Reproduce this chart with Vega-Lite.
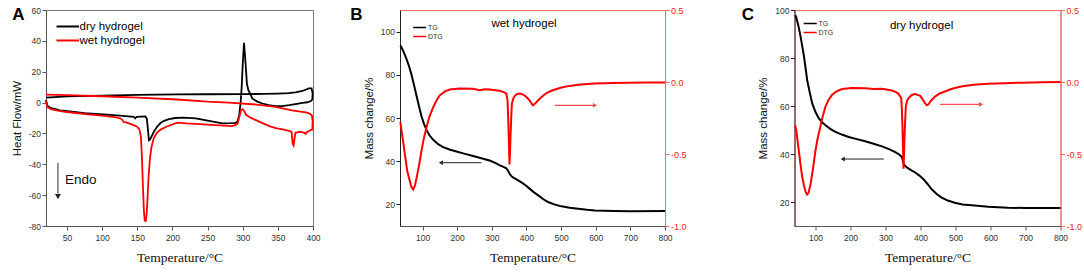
{
  "$schema": "https://vega.github.io/schema/vega-lite/v6.json",
  "padding": {"left": 10, "top": 5, "right": 0, "bottom": 0},
  "background": "white",
  "config": {
    "font": "Liberation Sans",
    "axis": {"labelFont": "Liberation Sans", "labelFontSize": 8.5, "labelColor": "#333", "labelOverlap": false, "labelFlush": false, "labelBound": false, "tickSize": 4, "tickColor": "#555", "domainColor": "#555", "grid": false, "titleFont": "Liberation Sans", "titleFontWeight": "normal", "titleColor": "#111", "titleFontSize": 11.5, "labelPadding": 1.5, "titlePadding": 6},
    "axisX": {"titleFont": "Liberation Serif", "titleFontSize": 13.5, "titlePadding": 9, "labelPadding": 3},
    "title": {"fontSize": 17, "fontWeight": "bold", "anchor": "start", "frame": "bounds", "offset": -18, "color": "#000", "font": "Liberation Sans"},
    "legend": {"padding": 0, "titlePadding": 0}
  },
  "datasets": {
    "aDSC": [
      {"s":"dry hydrogel","i":0,"t":20,"v":1.6},{"s":"dry hydrogel","i":1,"t":22,"v":-2.0},{"s":"dry hydrogel","i":2,"t":26,"v":-3.2},{"s":"dry hydrogel","i":3,"t":31,"v":-4.0},{"s":"dry hydrogel","i":4,"t":40,"v":-5.0},{"s":"dry hydrogel","i":5,"t":50,"v":-5.6},{"s":"dry hydrogel","i":6,"t":60,"v":-6.1},{"s":"dry hydrogel","i":7,"t":75,"v":-6.8},{"s":"dry hydrogel","i":8,"t":90,"v":-7.3},{"s":"dry hydrogel","i":9,"t":107,"v":-7.8},{"s":"dry hydrogel","i":10,"t":125,"v":-8.5},{"s":"dry hydrogel","i":11,"t":145,"v":-9.2},{"s":"dry hydrogel","i":12,"t":147,"v":-10.3},{"s":"dry hydrogel","i":13,"t":149,"v":-9.2},{"s":"dry hydrogel","i":14,"t":161.5,"v":-8.9},{"s":"dry hydrogel","i":15,"t":163.5,"v":-10.5},{"s":"dry hydrogel","i":16,"t":165,"v":-17},{"s":"dry hydrogel","i":17,"t":166.5,"v":-24.4},{"s":"dry hydrogel","i":18,"t":168,"v":-24},{"s":"dry hydrogel","i":19,"t":171,"v":-21.2},{"s":"dry hydrogel","i":20,"t":174,"v":-18.5},{"s":"dry hydrogel","i":21,"t":178,"v":-15.7},{"s":"dry hydrogel","i":22,"t":183,"v":-13.2},{"s":"dry hydrogel","i":23,"t":188,"v":-11.8},{"s":"dry hydrogel","i":24,"t":195,"v":-10.7},{"s":"dry hydrogel","i":25,"t":204,"v":-10.0},{"s":"dry hydrogel","i":26,"t":216,"v":-9.7},{"s":"dry hydrogel","i":27,"t":233,"v":-10.3},{"s":"dry hydrogel","i":28,"t":252,"v":-11.8},{"s":"dry hydrogel","i":29,"t":271,"v":-13.5},{"s":"dry hydrogel","i":30,"t":283,"v":-13.3},{"s":"dry hydrogel","i":31,"t":290,"v":-13.1},{"s":"dry hydrogel","i":32,"t":293,"v":-11.8},{"s":"dry hydrogel","i":33,"t":295,"v":-8},{"s":"dry hydrogel","i":34,"t":297,"v":0},{"s":"dry hydrogel","i":35,"t":298.5,"v":10},{"s":"dry hydrogel","i":36,"t":300,"v":25},{"s":"dry hydrogel","i":37,"t":301.8,"v":38.8},{"s":"dry hydrogel","i":38,"t":303.3,"v":30},{"s":"dry hydrogel","i":39,"t":304.8,"v":20},{"s":"dry hydrogel","i":40,"t":306,"v":12},{"s":"dry hydrogel","i":41,"t":308,"v":8.1},{"s":"dry hydrogel","i":42,"t":311,"v":5.5},{"s":"dry hydrogel","i":43,"t":313.5,"v":2.7},{"s":"dry hydrogel","i":44,"t":320,"v":0.8},{"s":"dry hydrogel","i":45,"t":328,"v":-0.6},{"s":"dry hydrogel","i":46,"t":337,"v":-1.7},{"s":"dry hydrogel","i":47,"t":347,"v":-2.3},{"s":"dry hydrogel","i":48,"t":356,"v":-2.3},{"s":"dry hydrogel","i":49,"t":366,"v":-1.7},{"s":"dry hydrogel","i":50,"t":375,"v":-1.0},{"s":"dry hydrogel","i":51,"t":385,"v":-0.2},{"s":"dry hydrogel","i":52,"t":392,"v":0.2},{"s":"dry hydrogel","i":53,"t":397,"v":1.0},{"s":"dry hydrogel","i":54,"t":399,"v":2},{"s":"dry hydrogel","i":55,"t":399.5,"v":6},{"s":"dry hydrogel","i":56,"t":398,"v":9.2},{"s":"dry hydrogel","i":57,"t":394,"v":9.2},{"s":"dry hydrogel","i":58,"t":385,"v":7.5},{"s":"dry hydrogel","i":59,"t":375,"v":6.6},{"s":"dry hydrogel","i":60,"t":365,"v":6.1},{"s":"dry hydrogel","i":61,"t":350,"v":5.8},{"s":"dry hydrogel","i":62,"t":330,"v":5.6},{"s":"dry hydrogel","i":63,"t":300,"v":5.5},{"s":"dry hydrogel","i":64,"t":250,"v":5.4},{"s":"dry hydrogel","i":65,"t":207,"v":5.3},{"s":"dry hydrogel","i":66,"t":150,"v":5.0},{"s":"dry hydrogel","i":67,"t":100,"v":4.5},{"s":"dry hydrogel","i":68,"t":50,"v":4.0},{"s":"dry hydrogel","i":69,"t":20,"v":3.2},
      {"s":"wet hydrogel","i":0,"t":20,"v":1.0},{"s":"wet hydrogel","i":1,"t":22,"v":-3.0},{"s":"wet hydrogel","i":2,"t":27,"v":-4.2},{"s":"wet hydrogel","i":3,"t":35,"v":-5.0},{"s":"wet hydrogel","i":4,"t":45,"v":-5.8},{"s":"wet hydrogel","i":5,"t":59.4,"v":-6.6},{"s":"wet hydrogel","i":6,"t":80,"v":-7.6},{"s":"wet hydrogel","i":7,"t":107,"v":-8.8},{"s":"wet hydrogel","i":8,"t":120,"v":-9.6},{"s":"wet hydrogel","i":9,"t":126,"v":-10.3},{"s":"wet hydrogel","i":10,"t":128,"v":-11.0},{"s":"wet hydrogel","i":11,"t":130.6,"v":-12.5},{"s":"wet hydrogel","i":12,"t":134,"v":-12.9},{"s":"wet hydrogel","i":13,"t":137.8,"v":-13.5},{"s":"wet hydrogel","i":14,"t":143,"v":-14.3},{"s":"wet hydrogel","i":15,"t":149.7,"v":-15.7},{"s":"wet hydrogel","i":16,"t":153,"v":-17.5},{"s":"wet hydrogel","i":17,"t":155,"v":-22},{"s":"wet hydrogel","i":18,"t":156.5,"v":-35},{"s":"wet hydrogel","i":19,"t":158,"v":-55},{"s":"wet hydrogel","i":20,"t":159.3,"v":-70},{"s":"wet hydrogel","i":21,"t":160.5,"v":-76.5},{"s":"wet hydrogel","i":22,"t":162,"v":-76.8},{"s":"wet hydrogel","i":23,"t":163.3,"v":-72},{"s":"wet hydrogel","i":24,"t":164.5,"v":-62},{"s":"wet hydrogel","i":25,"t":166,"v":-48},{"s":"wet hydrogel","i":26,"t":168,"v":-36},{"s":"wet hydrogel","i":27,"t":170,"v":-29},{"s":"wet hydrogel","i":28,"t":173.4,"v":-23},{"s":"wet hydrogel","i":29,"t":178,"v":-19.5},{"s":"wet hydrogel","i":30,"t":183,"v":-17.5},{"s":"wet hydrogel","i":31,"t":192,"v":-15.5},{"s":"wet hydrogel","i":32,"t":206.7,"v":-13.0},{"s":"wet hydrogel","i":33,"t":220,"v":-13.5},{"s":"wet hydrogel","i":34,"t":233,"v":-13.8},{"s":"wet hydrogel","i":35,"t":261,"v":-14.6},{"s":"wet hydrogel","i":36,"t":285,"v":-15.3},{"s":"wet hydrogel","i":37,"t":290,"v":-14.5},{"s":"wet hydrogel","i":38,"t":292.8,"v":-13.5},{"s":"wet hydrogel","i":39,"t":295,"v":-9.5},{"s":"wet hydrogel","i":40,"t":297.6,"v":-4.9},{"s":"wet hydrogel","i":41,"t":300,"v":-4.3},{"s":"wet hydrogel","i":42,"t":302,"v":-5.5},{"s":"wet hydrogel","i":43,"t":304.7,"v":-7.9},{"s":"wet hydrogel","i":44,"t":311,"v":-9.8},{"s":"wet hydrogel","i":45,"t":318.9,"v":-11.4},{"s":"wet hydrogel","i":46,"t":328,"v":-13.3},{"s":"wet hydrogel","i":47,"t":337.9,"v":-15.3},{"s":"wet hydrogel","i":48,"t":347,"v":-16.5},{"s":"wet hydrogel","i":49,"t":356.9,"v":-17.4},{"s":"wet hydrogel","i":50,"t":366,"v":-18.3},{"s":"wet hydrogel","i":51,"t":369.5,"v":-19},{"s":"wet hydrogel","i":52,"t":371,"v":-26.5},{"s":"wet hydrogel","i":53,"t":372.4,"v":-27.8},{"s":"wet hydrogel","i":54,"t":373.5,"v":-24},{"s":"wet hydrogel","i":55,"t":375,"v":-19.6},{"s":"wet hydrogel","i":56,"t":379,"v":-19.2},{"s":"wet hydrogel","i":57,"t":383,"v":-19.0},{"s":"wet hydrogel","i":58,"t":387.7,"v":-19.6},{"s":"wet hydrogel","i":59,"t":389.5,"v":-20.3},{"s":"wet hydrogel","i":60,"t":391,"v":-19.2},{"s":"wet hydrogel","i":61,"t":396.6,"v":-17.9},{"s":"wet hydrogel","i":62,"t":399,"v":-17.5},{"s":"wet hydrogel","i":63,"t":399.5,"v":-12},{"s":"wet hydrogel","i":64,"t":398.5,"v":-8.5},{"s":"wet hydrogel","i":65,"t":396,"v":-7.3},{"s":"wet hydrogel","i":66,"t":390,"v":-6.4},{"s":"wet hydrogel","i":67,"t":384.7,"v":-6.0},{"s":"wet hydrogel","i":68,"t":370,"v":-5.0},{"s":"wet hydrogel","i":69,"t":346.8,"v":-2.8},{"s":"wet hydrogel","i":70,"t":320,"v":-1.3},{"s":"wet hydrogel","i":71,"t":280,"v":0.0},{"s":"wet hydrogel","i":72,"t":250,"v":0.6},{"s":"wet hydrogel","i":73,"t":206.7,"v":2.0},{"s":"wet hydrogel","i":74,"t":150,"v":3.2},{"s":"wet hydrogel","i":75,"t":100,"v":4.1},{"s":"wet hydrogel","i":76,"t":50,"v":4.8},{"s":"wet hydrogel","i":77,"t":20,"v":5.2}
    ],
    "bTG": [
      {"c":"TG","t":36,"v":93.5},{"c":"TG","t":40,"v":92.5},{"c":"TG","t":47,"v":90},{"c":"TG","t":54,"v":87.2},{"c":"TG","t":61,"v":84},{"c":"TG","t":68,"v":80.2},{"c":"TG","t":75,"v":75.5},{"c":"TG","t":83,"v":70.1},{"c":"TG","t":90,"v":65.3},{"c":"TG","t":97,"v":60.8},{"c":"TG","t":104,"v":57.4},{"c":"TG","t":111.5,"v":54.5},{"c":"TG","t":120,"v":52.0},{"c":"TG","t":131,"v":49.9},{"c":"TG","t":145,"v":47.9},{"c":"TG","t":159.5,"v":46.5},{"c":"TG","t":178,"v":45.4},{"c":"TG","t":198,"v":44.5},{"c":"TG","t":220,"v":43.5},{"c":"TG","t":246,"v":42.4},{"c":"TG","t":270,"v":41.4},{"c":"TG","t":293.6,"v":40.3},{"c":"TG","t":310,"v":39.2},{"c":"TG","t":322,"v":38.2},{"c":"TG","t":335,"v":37.3},{"c":"TG","t":342,"v":36.7},{"c":"TG","t":347,"v":35.6},{"c":"TG","t":351,"v":34.3},{"c":"TG","t":356,"v":33.2},{"c":"TG","t":361,"v":32.5},{"c":"TG","t":375,"v":31.2},{"c":"TG","t":390,"v":29.7},{"c":"TG","t":400,"v":28.5},{"c":"TG","t":409,"v":27.3},{"c":"TG","t":420,"v":25.8},{"c":"TG","t":434,"v":24.2},{"c":"TG","t":448,"v":22.5},{"c":"TG","t":462.5,"v":21.1},{"c":"TG","t":480,"v":20.0},{"c":"TG","t":501,"v":19.1},{"c":"TG","t":525,"v":18.5},{"c":"TG","t":549,"v":18.0},{"c":"TG","t":575,"v":17.5},{"c":"TG","t":597,"v":17.2},{"c":"TG","t":654,"v":16.9},{"c":"TG","t":700,"v":16.8},{"c":"TG","t":800,"v":16.9}
    ],
    "bDTG": [
      {"c":"DTG","t":36,"v":-0.279},{"c":"DTG","t":42,"v":-0.38},{"c":"DTG","t":49,"v":-0.50},{"c":"DTG","t":56,"v":-0.62},{"c":"DTG","t":63.5,"v":-0.689},{"c":"DTG","t":68,"v":-0.73},{"c":"DTG","t":73,"v":-0.747},{"c":"DTG","t":78,"v":-0.72},{"c":"DTG","t":83,"v":-0.665},{"c":"DTG","t":90,"v":-0.58},{"c":"DTG","t":97,"v":-0.478},{"c":"DTG","t":104,"v":-0.39},{"c":"DTG","t":111.5,"v":-0.314},{"c":"DTG","t":120,"v":-0.24},{"c":"DTG","t":131,"v":-0.174},{"c":"DTG","t":140,"v":-0.13},{"c":"DTG","t":150,"v":-0.092},{"c":"DTG","t":165,"v":-0.065},{"c":"DTG","t":178.5,"v":-0.052},{"c":"DTG","t":207,"v":-0.045},{"c":"DTG","t":246,"v":-0.047},{"c":"DTG","t":265,"v":-0.057},{"c":"DTG","t":280,"v":-0.05},{"c":"DTG","t":293.6,"v":-0.052},{"c":"DTG","t":322,"v":-0.061},{"c":"DTG","t":335,"v":-0.07},{"c":"DTG","t":342,"v":-0.080},{"c":"DTG","t":345.5,"v":-0.127},{"c":"DTG","t":348,"v":-0.3},{"c":"DTG","t":349.5,"v":-0.431},{"c":"DTG","t":351,"v":-0.572},{"c":"DTG","t":352.5,"v":-0.5},{"c":"DTG","t":354,"v":-0.384},{"c":"DTG","t":356,"v":-0.25},{"c":"DTG","t":358,"v":-0.151},{"c":"DTG","t":362,"v":-0.115},{"c":"DTG","t":365.5,"v":-0.099},{"c":"DTG","t":372,"v":-0.085},{"c":"DTG","t":380,"v":-0.080},{"c":"DTG","t":387,"v":-0.084},{"c":"DTG","t":394,"v":-0.092},{"c":"DTG","t":402,"v":-0.11},{"c":"DTG","t":409,"v":-0.127},{"c":"DTG","t":415,"v":-0.15},{"c":"DTG","t":419,"v":-0.162},{"c":"DTG","t":425,"v":-0.15},{"c":"DTG","t":434,"v":-0.127},{"c":"DTG","t":443,"v":-0.105},{"c":"DTG","t":453,"v":-0.085},{"c":"DTG","t":462,"v":-0.072},{"c":"DTG","t":472,"v":-0.061},{"c":"DTG","t":485,"v":-0.05},{"c":"DTG","t":501,"v":-0.038},{"c":"DTG","t":525,"v":-0.027},{"c":"DTG","t":549,"v":-0.019},{"c":"DTG","t":575,"v":-0.014},{"c":"DTG","t":597,"v":-0.010},{"c":"DTG","t":650,"v":-0.007},{"c":"DTG","t":693,"v":-0.005},{"c":"DTG","t":750,"v":-0.004},{"c":"DTG","t":800,"v":-0.003}
    ],
    "cTG": [
      {"c":"TG","t":42,"v":97.8},{"c":"TG","t":45,"v":96.9},{"c":"TG","t":51,"v":93.5},{"c":"TG","t":57,"v":89.2},{"c":"TG","t":62,"v":85},{"c":"TG","t":67,"v":80.8},{"c":"TG","t":71,"v":76.5},{"c":"TG","t":76,"v":71.0},{"c":"TG","t":83,"v":66},{"c":"TG","t":90.6,"v":61.1},{"c":"TG","t":100,"v":57.5},{"c":"TG","t":109.7,"v":54.8},{"c":"TG","t":119,"v":53.2},{"c":"TG","t":128.5,"v":52.0},{"c":"TG","t":142,"v":50.5},{"c":"TG","t":157,"v":49.2},{"c":"TG","t":175,"v":48.1},{"c":"TG","t":195,"v":47.1},{"c":"TG","t":218,"v":46.2},{"c":"TG","t":242,"v":45.3},{"c":"TG","t":266,"v":44.3},{"c":"TG","t":290,"v":43.2},{"c":"TG","t":310,"v":42.0},{"c":"TG","t":328,"v":40.8},{"c":"TG","t":340,"v":39.7},{"c":"TG","t":347,"v":38.7},{"c":"TG","t":350,"v":37.0},{"c":"TG","t":353,"v":35.5},{"c":"TG","t":361,"v":34.4},{"c":"TG","t":373,"v":33.3},{"c":"TG","t":385,"v":32.3},{"c":"TG","t":397,"v":31.0},{"c":"TG","t":408.5,"v":29.5},{"c":"TG","t":420,"v":27.5},{"c":"TG","t":432,"v":25.3},{"c":"TG","t":446,"v":23.3},{"c":"TG","t":460.6,"v":21.8},{"c":"TG","t":478,"v":20.6},{"c":"TG","t":498,"v":19.7},{"c":"TG","t":520,"v":19.0},{"c":"TG","t":546,"v":18.6},{"c":"TG","t":570,"v":18.3},{"c":"TG","t":593.5,"v":18.0},{"c":"TG","t":650,"v":17.6},{"c":"TG","t":700,"v":17.5},{"c":"TG","t":800,"v":17.5}
    ],
    "cDTG": [
      {"c":"DTG","t":42,"v":-0.30},{"c":"DTG","t":45,"v":-0.334},{"c":"DTG","t":51,"v":-0.45},{"c":"DTG","t":57,"v":-0.568},{"c":"DTG","t":62,"v":-0.66},{"c":"DTG","t":67,"v":-0.719},{"c":"DTG","t":72,"v":-0.765},{"c":"DTG","t":76,"v":-0.782},{"c":"DTG","t":80,"v":-0.77},{"c":"DTG","t":86,"v":-0.708},{"c":"DTG","t":93,"v":-0.6},{"c":"DTG","t":100,"v":-0.474},{"c":"DTG","t":107,"v":-0.38},{"c":"DTG","t":114,"v":-0.311},{"c":"DTG","t":121,"v":-0.235},{"c":"DTG","t":128.5,"v":-0.171},{"c":"DTG","t":137,"v":-0.125},{"c":"DTG","t":147.5,"v":-0.089},{"c":"DTG","t":160,"v":-0.065},{"c":"DTG","t":176,"v":-0.049},{"c":"DTG","t":204,"v":-0.042},{"c":"DTG","t":242,"v":-0.044},{"c":"DTG","t":266,"v":-0.049},{"c":"DTG","t":290,"v":-0.047},{"c":"DTG","t":318,"v":-0.059},{"c":"DTG","t":330,"v":-0.07},{"c":"DTG","t":337,"v":-0.082},{"c":"DTG","t":345,"v":-0.112},{"c":"DTG","t":347,"v":-0.2},{"c":"DTG","t":349,"v":-0.358},{"c":"DTG","t":351.5,"v":-0.603},{"c":"DTG","t":353,"v":-0.5},{"c":"DTG","t":354,"v":-0.404},{"c":"DTG","t":356,"v":-0.28},{"c":"DTG","t":358,"v":-0.171},{"c":"DTG","t":362,"v":-0.13},{"c":"DTG","t":366,"v":-0.112},{"c":"DTG","t":375,"v":-0.09},{"c":"DTG","t":383,"v":-0.084},{"c":"DTG","t":391,"v":-0.088},{"c":"DTG","t":399,"v":-0.096},{"c":"DTG","t":406,"v":-0.12},{"c":"DTG","t":413,"v":-0.147},{"c":"DTG","t":418,"v":-0.162},{"c":"DTG","t":423,"v":-0.155},{"c":"DTG","t":430,"v":-0.13},{"c":"DTG","t":441.5,"v":-0.101},{"c":"DTG","t":455,"v":-0.08},{"c":"DTG","t":470,"v":-0.066},{"c":"DTG","t":484,"v":-0.052},{"c":"DTG","t":498,"v":-0.042},{"c":"DTG","t":520,"v":-0.03},{"c":"DTG","t":546,"v":-0.021},{"c":"DTG","t":570,"v":-0.016},{"c":"DTG","t":593.5,"v":-0.012},{"c":"DTG","t":640,"v":-0.008},{"c":"DTG","t":688,"v":-0.005},{"c":"DTG","t":750,"v":-0.002},{"c":"DTG","t":800,"v":0.0}
    ]
  },
  "spacing": 28,
  "resolve": {"scale": {"x": "independent", "y": "independent", "color": "independent"}, "legend": {"color": "independent"}},
  "hconcat": [
    {
      "width": 267,
      "height": 216,
      "title": {"text": "A", "dx": 1},
      "view": {"stroke": "#777"},
      "layer": [
        {
          "data": {"name": "aDSC"},
          "mark": {"type": "line", "strokeWidth": 1.8},
          "encoding": {
            "x": {"field": "t", "type": "quantitative", "scale": {"domain": [20, 400], "nice": false, "zero": false}, "axis": {"values": [50,100,150,200,250,300,350,400], "tickCount": 30, "labelOverlap": false, "title": "Temperature/°C"}},
            "y": {"field": "v", "type": "quantitative", "scale": {"domain": [-80, 60], "nice": false, "zero": false}, "axis": {"values": [-80,-60,-40,-20,0,20,40,60], "tickCount": 30, "labelOverlap": false, "title": "Heat Flow/mW", "titleFontSize": 11.5, "labelExpr": "replace(datum.label, '−', '-')"}},
            "color": {"field": "s", "type": "nominal", "scale": {"domain": ["dry hydrogel", "wet hydrogel"], "range": ["#000000", "#ff0000"]}, "legend": {"title": null, "orient": "top-left", "offset": 7.5, "symbolType": "M-0.8,0H2.2", "symbolSize": 225, "symbolStrokeWidth": 2, "labelOffset": 8.5, "labelFontSize": 11.5, "labelColor": "#000", "labelFont": "Liberation Sans", "rowPadding": 0}},
            "order": {"field": "i", "type": "quantitative"}
          }
        },
        {
          "data": {"values": [{"t": 37, "v": -39, "v2": -59}]},
          "mark": {"type": "rule", "color": "#333", "strokeWidth": 1},
          "encoding": {
            "x": {"field": "t", "type": "quantitative", "scale": {"domain": [20, 400], "nice": false, "zero": false}},
            "y": {"field": "v", "type": "quantitative", "scale": {"domain": [-80, 60], "nice": false, "zero": false}},
            "y2": {"field": "v2"}
          }
        },
        {
          "data": {"values": [{"t": 37, "v": -61}]},
          "mark": {"type": "point", "shape": "triangle-down", "filled": true, "size": 35, "color": "#222", "opacity": 1},
          "encoding": {
            "x": {"field": "t", "type": "quantitative", "scale": {"domain": [20, 400], "nice": false, "zero": false}},
            "y": {"field": "v", "type": "quantitative", "scale": {"domain": [-80, 60], "nice": false, "zero": false}}
          }
        },
        {
          "data": {"values": [{"t": 47, "v": -50.5, "label": "Endo"}]},
          "mark": {"type": "text", "align": "left", "baseline": "middle", "fontSize": 13.5, "font": "Liberation Sans", "color": "#111"},
          "encoding": {
            "x": {"field": "t", "type": "quantitative", "scale": {"domain": [20, 400], "nice": false, "zero": false}},
            "y": {"field": "v", "type": "quantitative", "scale": {"domain": [-80, 60], "nice": false, "zero": false}},
            "text": {"field": "label"}
          }
        }
      ]
    },
    {
      "spacing": 53.5,
      "resolve": {"scale": {"x": "independent", "y": "independent", "color": "independent"}, "legend": {"color": "independent"}},
      "hconcat": [
        {
          "width": 265,
          "height": 216,
          "title": {"text": "B", "dx": -13},
          "view": {"stroke": "#f26b6b"},
          "resolve": {"scale": {"y": "independent"}},
          "layer": [
            {
              "layer": [
                {
                  "data": {"name": "bTG"},
                  "mark": {"type": "line", "strokeWidth": 2},
                  "encoding": {
                    "x": {"field": "t", "type": "quantitative", "scale": {"domain": [35, 800], "nice": false, "zero": false}, "axis": {"values": [100,200,300,400,500,600,700,800], "tickCount": 30, "labelOverlap": false, "title": "Temperature/°C"}},
                    "y": {"field": "v", "type": "quantitative", "scale": {"domain": [10, 110], "nice": false, "zero": false}, "axis": {"values": [20,40,60,80,100], "tickCount": 30, "labelOverlap": false, "title": "Mass change/%", "domainColor": "#222", "tickColor": "#222"}},
                    "color": {"field": "c", "type": "nominal", "scale": {"domain": ["TG", "DTG"], "range": ["#000000", "#ff0000"]}, "legend": {"title": null, "orient": "top-left", "offset": 12, "symbolType": "M-1,0H2", "symbolSize": 76, "symbolStrokeWidth": 1.5, "labelOffset": 5, "labelFontSize": 7, "labelColor": "#333", "labelFont": "Liberation Sans", "rowPadding": 0}}
                  }
                },
                {
                  "data": {"values": [{"t": 270, "t2": 155, "v": 39.3}]},
                  "mark": {"type": "rule", "color": "#222", "strokeWidth": 1},
                  "encoding": {
                    "x": {"field": "t", "type": "quantitative", "scale": {"domain": [35, 800], "nice": false, "zero": false}},
                    "x2": {"field": "t2"},
                    "y": {"field": "v", "type": "quantitative", "scale": {"domain": [10, 110], "nice": false, "zero": false}}
                  }
                },
                {
                  "data": {"values": [{"t": 153, "v": 39.3}]},
                  "mark": {"type": "point", "shape": "triangle-left", "filled": true, "size": 22, "color": "#222", "opacity": 1},
                  "encoding": {
                    "x": {"field": "t", "type": "quantitative", "scale": {"domain": [35, 800], "nice": false, "zero": false}},
                    "y": {"field": "v", "type": "quantitative", "scale": {"domain": [10, 110], "nice": false, "zero": false}}
                  }
                },
                {
                  "data": {"values": [{"t": 393, "v": 103.5, "label": "wet hydrogel"}]},
                  "mark": {"type": "text", "align": "center", "baseline": "middle", "fontSize": 11.5, "font": "Liberation Sans", "color": "#000"},
                  "encoding": {
                    "x": {"field": "t", "type": "quantitative", "scale": {"domain": [35, 800], "nice": false, "zero": false}},
                    "y": {"field": "v", "type": "quantitative", "scale": {"domain": [10, 110], "nice": false, "zero": false}},
                    "text": {"field": "label"}
                  }
                }
              ]
            },
            {
              "layer": [
                {
                  "data": {"name": "bDTG"},
                  "mark": {"type": "line", "strokeWidth": 2},
                  "encoding": {
                    "x": {"field": "t", "type": "quantitative", "scale": {"domain": [35, 800], "nice": false, "zero": false}},
                    "y": {"field": "v", "type": "quantitative", "scale": {"domain": [-1, 0.5], "nice": false, "zero": false}, "axis": {"orient": "right", "values": [-1, -0.5, 0, 0.5], "tickCount": 30, "labelOverlap": false, "format": ".1f", "labelExpr": "replace(datum.label, '−', '-')", "title": null, "labelColor": "#ee2222", "domainColor": "#f26b6b", "tickColor": "#f26b6b", "labelFontSize": 9}},
                    "color": {"field": "c", "type": "nominal", "scale": {"domain": ["TG", "DTG"], "range": ["#000000", "#ff0000"]}, "legend": {"title": null, "orient": "top-left", "offset": 12, "symbolType": "M-1,0H2", "symbolSize": 76, "symbolStrokeWidth": 1.5, "labelOffset": 5, "labelFontSize": 7, "labelColor": "#333", "labelFont": "Liberation Sans", "rowPadding": 0}}
                  }
                },
                {
                  "data": {"values": [{"t": 482, "t2": 595, "v": -0.162}]},
                  "mark": {"type": "rule", "color": "#f25050", "strokeWidth": 1.3},
                  "encoding": {
                    "x": {"field": "t", "type": "quantitative", "scale": {"domain": [35, 800], "nice": false, "zero": false}},
                    "x2": {"field": "t2"},
                    "y": {"field": "v", "type": "quantitative", "scale": {"domain": [-1, 0.5], "nice": false, "zero": false}}
                  }
                },
                {
                  "data": {"values": [{"t": 598, "v": -0.162}]},
                  "mark": {"type": "point", "shape": "triangle-right", "filled": true, "size": 22, "color": "#f25050", "opacity": 1},
                  "encoding": {
                    "x": {"field": "t", "type": "quantitative", "scale": {"domain": [35, 800], "nice": false, "zero": false}},
                    "y": {"field": "v", "type": "quantitative", "scale": {"domain": [-1, 0.5], "nice": false, "zero": false}}
                  }
                }
              ]
            }
          ]
        },
        {
          "width": 266,
          "height": 216,
          "title": {"text": "C", "dx": -16},
          "view": {"stroke": "#f26b6b"},
          "resolve": {"scale": {"y": "independent"}},
          "layer": [
            {
              "layer": [
                {
                  "data": {"name": "cTG"},
                  "mark": {"type": "line", "strokeWidth": 2},
                  "encoding": {
                    "x": {"field": "t", "type": "quantitative", "scale": {"domain": [40, 800], "nice": false, "zero": false}, "axis": {"values": [100,200,300,400,500,600,700,800], "tickCount": 30, "labelOverlap": false, "title": "Temperature/°C"}},
                    "y": {"field": "v", "type": "quantitative", "scale": {"domain": [10, 100], "nice": false, "zero": false}, "axis": {"values": [20,40,60,80,100], "tickCount": 30, "labelOverlap": false, "title": "Mass change/%", "domainColor": "#222", "tickColor": "#222"}},
                    "color": {"field": "c", "type": "nominal", "scale": {"domain": ["TG", "DTG"], "range": ["#000000", "#ff0000"]}, "legend": {"title": null, "orient": "top-left", "offset": 8, "symbolType": "M-1,0H2", "symbolSize": 76, "symbolStrokeWidth": 1.5, "labelOffset": 5, "labelFontSize": 7, "labelColor": "#333", "labelFont": "Liberation Sans", "rowPadding": 0}}
                  }
                },
                {
                  "data": {"values": [{"t": 295, "t2": 180, "v": 37.9}]},
                  "mark": {"type": "rule", "color": "#222", "strokeWidth": 1},
                  "encoding": {
                    "x": {"field": "t", "type": "quantitative", "scale": {"domain": [40, 800], "nice": false, "zero": false}},
                    "x2": {"field": "t2"},
                    "y": {"field": "v", "type": "quantitative", "scale": {"domain": [10, 100], "nice": false, "zero": false}}
                  }
                },
                {
                  "data": {"values": [{"t": 178, "v": 37.9}]},
                  "mark": {"type": "point", "shape": "triangle-left", "filled": true, "size": 22, "color": "#222", "opacity": 1},
                  "encoding": {
                    "x": {"field": "t", "type": "quantitative", "scale": {"domain": [40, 800], "nice": false, "zero": false}},
                    "y": {"field": "v", "type": "quantitative", "scale": {"domain": [10, 100], "nice": false, "zero": false}}
                  }
                },
                {
                  "data": {"values": [{"t": 403, "v": 93.4, "label": "dry hydrogel"}]},
                  "mark": {"type": "text", "align": "center", "baseline": "middle", "fontSize": 11.5, "font": "Liberation Sans", "color": "#000"},
                  "encoding": {
                    "x": {"field": "t", "type": "quantitative", "scale": {"domain": [40, 800], "nice": false, "zero": false}},
                    "y": {"field": "v", "type": "quantitative", "scale": {"domain": [10, 100], "nice": false, "zero": false}},
                    "text": {"field": "label"}
                  }
                }
              ]
            },
            {
              "layer": [
                {
                  "data": {"name": "cDTG"},
                  "mark": {"type": "line", "strokeWidth": 2},
                  "encoding": {
                    "x": {"field": "t", "type": "quantitative", "scale": {"domain": [40, 800], "nice": false, "zero": false}},
                    "y": {"field": "v", "type": "quantitative", "scale": {"domain": [-1, 0.5], "nice": false, "zero": false}, "axis": {"orient": "right", "values": [-1, -0.5, 0, 0.5], "tickCount": 30, "labelOverlap": false, "format": ".1f", "labelExpr": "replace(datum.label, '−', '-')", "title": null, "labelColor": "#ee2222", "domainColor": "#f26b6b", "tickColor": "#f26b6b", "labelFontSize": 9}},
                    "color": {"field": "c", "type": "nominal", "scale": {"domain": ["TG", "DTG"], "range": ["#000000", "#ff0000"]}, "legend": {"title": null, "orient": "top-left", "offset": 8, "symbolType": "M-1,0H2", "symbolSize": 76, "symbolStrokeWidth": 1.5, "labelOffset": 5, "labelFontSize": 7, "labelColor": "#333", "labelFont": "Liberation Sans", "rowPadding": 0}}
                  }
                },
                {
                  "data": {"values": [{"t": 456, "t2": 570, "v": -0.155}]},
                  "mark": {"type": "rule", "color": "#f25050", "strokeWidth": 1.3},
                  "encoding": {
                    "x": {"field": "t", "type": "quantitative", "scale": {"domain": [40, 800], "nice": false, "zero": false}},
                    "x2": {"field": "t2"},
                    "y": {"field": "v", "type": "quantitative", "scale": {"domain": [-1, 0.5], "nice": false, "zero": false}}
                  }
                },
                {
                  "data": {"values": [{"t": 573, "v": -0.155}]},
                  "mark": {"type": "point", "shape": "triangle-right", "filled": true, "size": 22, "color": "#f25050", "opacity": 1},
                  "encoding": {
                    "x": {"field": "t", "type": "quantitative", "scale": {"domain": [40, 800], "nice": false, "zero": false}},
                    "y": {"field": "v", "type": "quantitative", "scale": {"domain": [-1, 0.5], "nice": false, "zero": false}}
                  }
                }
              ]
            }
          ]
        }
      ]
    }
  ]
}
